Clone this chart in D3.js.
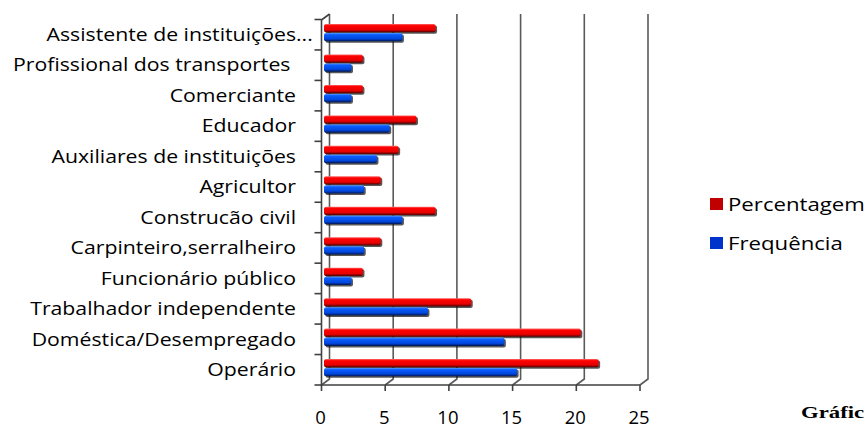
<!DOCTYPE html>
<html lang="pt">
<head>
<meta charset="UTF-8">
<title>Profissões</title>
<script src="https://cdn.jsdelivr.net/npm/d3@7"></script>
<style>
  body { margin: 0; background: #fff; }
  svg text { font-family: "Open Sans", Lato, sans-serif; fill: #000; }
</style>
</head>
<body>
<svg class="chart"></svg>
<script>
// data (top to bottom)
const categories = ['Assistente de instituições...', 'Profissional dos transportes ', 'Comerciante', 'Educador',
    'Auxiliares de instituições', 'Agricultor', 'Construcão civil', 'Carpinteiro,serralheiro',
    'Funcionário público', 'Trabalhador independente', 'Doméstica/Desempregado', 'Operário'];
const percentagem = [8.6, 2.9, 2.9, 7.1, 5.7, 4.3, 8.6, 4.3, 2.9, 11.4, 20.0, 21.4];
const frequencia  = [6, 2, 2, 5, 4, 3, 6, 3, 2, 8, 14, 15];
const seriesNames = ['Percentagem', 'Frequência'];
const xTicks = [0, 5, 10, 15, 20, 25];
const captionText = 'Gráfic';

const width = 867, height = 430;
const plot = {left: 321.5, right: 640, top: 20, bottom: 385};
const depth = {dx: 8, dy: -6};

const svg = d3.select('.chart').attr('width', width).attr('height', height);

// gradients for the shaded bars
const defs = svg.append('defs');
const grad = (id, stops) => {
    const g = defs.append('linearGradient').attr('id', id).attr('x1', 0).attr('y1', 0).attr('x2', 0).attr('y2', 1);
    stops.forEach(s => g.append('stop').attr('offset', s[0]).attr('stop-color', s[1]));
};
grad('gRed',  [[0, '#ff6a6a'], [0.2, '#ff0000'], [0.7, '#e60000'], [1, '#4a0000']]);
grad('gBlue', [[0, '#5a9bff'], [0.2, '#0a5cff'], [0.7, '#0046dc'], [1, '#00144f']]);

const x = d3.scaleLinear().domain([0, 25]).range([plot.left, plot.right]);
// bars sit half way into the depth
const xb = d3.scaleLinear().domain([0, 25]).range([plot.left + depth.dx / 2 + 0.5, plot.right + depth.dx / 2 + 0.5]);
const y = d3.scaleBand().domain(categories).range([plot.top - 0.5, plot.bottom]);
const ySub = d3.scaleBand().domain(seriesNames).range([4.5, 21.8]).paddingInner(0.08);

// back wall gridlines + floor diagonals
const grid = svg.append('g').attr('stroke', '#5a5a5a').attr('stroke-width', 1.6).attr('fill', 'none');
xTicks.forEach(v => {
    grid.append('path')
        .attr('d', `M${x(v) + depth.dx},${plot.top + depth.dy} L${x(v) + depth.dx},${plot.bottom + depth.dy} L${x(v)},${plot.bottom}`);
});

// front axes
const axes = svg.append('g').attr('stroke', '#404040').attr('stroke-width', 1.6).attr('fill', 'none');
axes.append('path').attr('d', `M${plot.left + depth.dx},${plot.top + depth.dy} L${plot.left},${plot.top} L${plot.left},${plot.bottom} L${plot.right},${plot.bottom}`);
const bounds = categories.map(c => y(c)).concat([plot.bottom]);
bounds.forEach(b => axes.append('line').attr('x1', plot.left - 7).attr('x2', plot.left).attr('y1', b).attr('y2', b));
xTicks.forEach(v => axes.append('line').attr('x1', x(v)).attr('x2', x(v)).attr('y1', plot.bottom).attr('y2', plot.bottom + 6));

// bars
const rows = categories.map((c, i) => ({cat: c, Percentagem: percentagem[i], 'Frequência': frequencia[i]}));
const fills = {'Percentagem': 'url(#gRed)', 'Frequência': 'url(#gBlue)'};
const bars = svg.append('g');
rows.forEach(r => {
    seriesNames.forEach(s => {
        const y0 = y(r.cat) + ySub(s), h = ySub.bandwidth();
        const x0 = xb(0) - 2, w = xb(r[s]) - x0;
        bars.append('rect').attr('x', x0 + 1.5).attr('y', y0 + 1.5).attr('width', w).attr('height', h)
            .attr('rx', 2).attr('fill', '#111').attr('opacity', 0.7);
        bars.append('rect').attr('x', x0).attr('y', y0).attr('width', w).attr('height', h)
            .attr('rx', 2).attr('fill', fills[s]);
    });
});

// category labels, stretched horizontally like the original
const labelSize = 17.5;
const probe = svg.append('text').style('font-size', labelSize + 'px').text('Trabalhador independente');
const kLab = 266 / probe.node().getComputedTextLength();
probe.remove();
const labels = svg.append('g').attr('transform', `translate(296,0) scale(${kLab},1)`);
categories.forEach(c => {
    const cy = y(c) + y.bandwidth() / 2;
    const main = c.endsWith('...') ? c.slice(0, -3) : c;
    labels.append('text').attr('x', 0).attr('y', cy).attr('dy', '0.36em')
        .attr('text-anchor', 'end').style('font-size', labelSize + 'px').style('white-space', 'pre').text(main);
    if (main !== c) {
        labels.append('text').attr('x', 0).attr('y', cy).attr('dy', '0.36em')
            .attr('text-anchor', 'start').style('font-size', labelSize + 'px').text('...');
    }
});

// x tick labels
svg.append('g').selectAll('text').data(xTicks).join('text')
    .attr('x', d => x(d) - 1).attr('y', 424).attr('text-anchor', 'middle')
    .style('font-size', '18.5px').text(d => d);

// legend
const legendColors = {'Percentagem': '#c00000', 'Frequência': '#0033cc'};
const legendSize = 18.5;
const probe2 = svg.append('text').style('font-size', legendSize + 'px').text(seriesNames[0]);
const kLeg = 137 / probe2.node().getComputedTextLength();
probe2.remove();
const legend = svg.append('g');
seriesNames.forEach((s, i) => {
    const ly = 204 + i * 39;
    legend.append('rect').attr('x', 710).attr('y', ly - 6).attr('width', 13).attr('height', 12).attr('fill', legendColors[s]);
    legend.append('text').attr('transform', `translate(728,${ly}) scale(${kLeg},1)`)
        .attr('dy', '0.36em').style('font-size', legendSize + 'px').text(s);
});

// caption, only its start is visible in the original
svg.append('text').attr('transform', 'translate(801,418) scale(1.3,1)')
    .style('font-family', '"Liberation Serif", "DejaVu Serif", serif').style('font-weight', 'bold')
    .style('font-size', '17.5px').text(captionText);
</script>
</body>
</html>
